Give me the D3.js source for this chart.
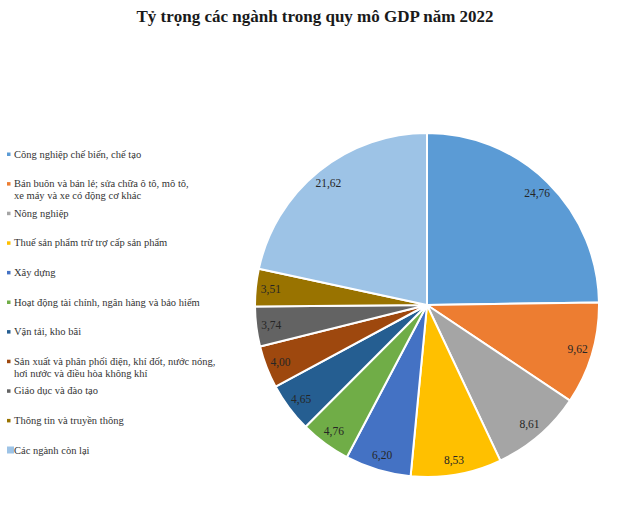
<!DOCTYPE html>
<html>
<head>
<meta charset="utf-8">
<script src="https://cdn.jsdelivr.net/npm/d3@7"></script>
<style>
  html, body { margin: 0; padding: 0; background: #ffffff; }
  svg { display: block; }
</style>
</head>
<body>
<svg id="chart" width="630" height="532"></svg>
<script>
const title = "Tỷ trọng các ngành trong quy mô GDP năm 2022";
const categories = [
  ["Công nghiệp chế biến, chế tạo"],
  ["Bán buôn và bán lẻ; sửa chữa ô tô, mô tô,", "xe máy và xe có động cơ khác"],
  ["Nông nghiệp"],
  ["Thuế sản phẩm trừ trợ cấp sản phẩm"],
  ["Xây dựng"],
  ["Hoạt động tài chính, ngân hàng và bảo hiểm"],
  ["Vận tải, kho bãi"],
  ["Sản xuất và phân phối điện, khí đốt, nước nóng,", "hơi nước và điều hòa không khí"],
  ["Giáo dục và đào tạo"],
  ["Thông tin và truyền thông"],
  ["Các ngành còn lại"]
];
const values = [24.76, 9.62, 8.61, 8.53, 6.20, 4.76, 4.65, 4.00, 3.74, 3.51, 21.62];
const colors = ["#5b9bd5", "#ed7d31", "#a5a5a5", "#ffc000", "#4472c4", "#70ad47",
                "#255e91", "#9e480e", "#636363", "#997300", "#9dc3e6"];

const svg = d3.select("#chart");
const font = "'Liberation Serif', 'Times New Roman', serif";

svg.append("text")
  .attr("x", 315).attr("y", 22)
  .attr("text-anchor", "middle")
  .attr("font-family", font)
  .attr("font-weight", "bold")
  .attr("font-size", 17)
  .attr("fill", "#1a1a1a")
  .text(title);

// Pie
const cx = 427, cy = 305, R = 172, labelR = 157;
const idx = d3.range(values.length);
const pie = d3.pie().sort(null).value(i => values[i]);
const arcs = pie(idx);
const arc = d3.arc().innerRadius(0).outerRadius(R);
const labelArc = d3.arc().innerRadius(labelR).outerRadius(labelR);
const color = d3.scaleOrdinal().domain(idx).range(colors);

const g = svg.append("g").attr("transform", `translate(${cx},${cy})`);
g.selectAll("path.slice")
  .data(arcs)
  .join("path")
  .attr("class", "slice")
  .attr("d", arc)
  .attr("fill", d => color(d.data))
  .attr("stroke", "#ffffff")
  .attr("stroke-width", 2)
  .attr("stroke-linejoin", "round");

const fmt = v => v.toFixed(2).replace(".", ",");
g.selectAll("text.lbl")
  .data(arcs)
  .join("text")
  .attr("class", "lbl")
  .attr("transform", d => `translate(${labelArc.centroid(d)})`)
  .attr("text-anchor", "middle")
  .attr("dy", "0.35em")
  .attr("font-family", font)
  .attr("font-size", 11.5)
  .attr("fill", "#262626")
  .text(d => fmt(values[d.data]));

// Legend
const ly = d3.scaleLinear().domain([0, values.length - 1]).range([154, 450]);
const leg = svg.append("g");
const items = leg.selectAll("g.item")
  .data(idx)
  .join("g")
  .attr("class", "item")
  .attr("transform", i => `translate(0,${ly(i)})`);

items.append("rect")
  .attr("x", i => i === values.length - 1 ? 7 : 7)
  .attr("y", i => i === values.length - 1 ? -3.5 : -1.5)
  .attr("width", i => i === values.length - 1 ? 7 : 3.5)
  .attr("height", i => i === values.length - 1 ? 7 : 3.5)
  .attr("fill", i => color(i));

items.each(function(i) {
  const t = d3.select(this).append("text")
    .attr("x", 14)
    .attr("font-family", font)
    .attr("font-size", 10.5)
    .attr("fill", "#333333");
  categories[i].forEach((line, k) => {
    t.append("tspan")
      .attr("x", 14)
      .attr("y", k * 12)
      .attr("dy", "0.35em")
      .text(line);
  });
});
</script>
</body>
</html>
